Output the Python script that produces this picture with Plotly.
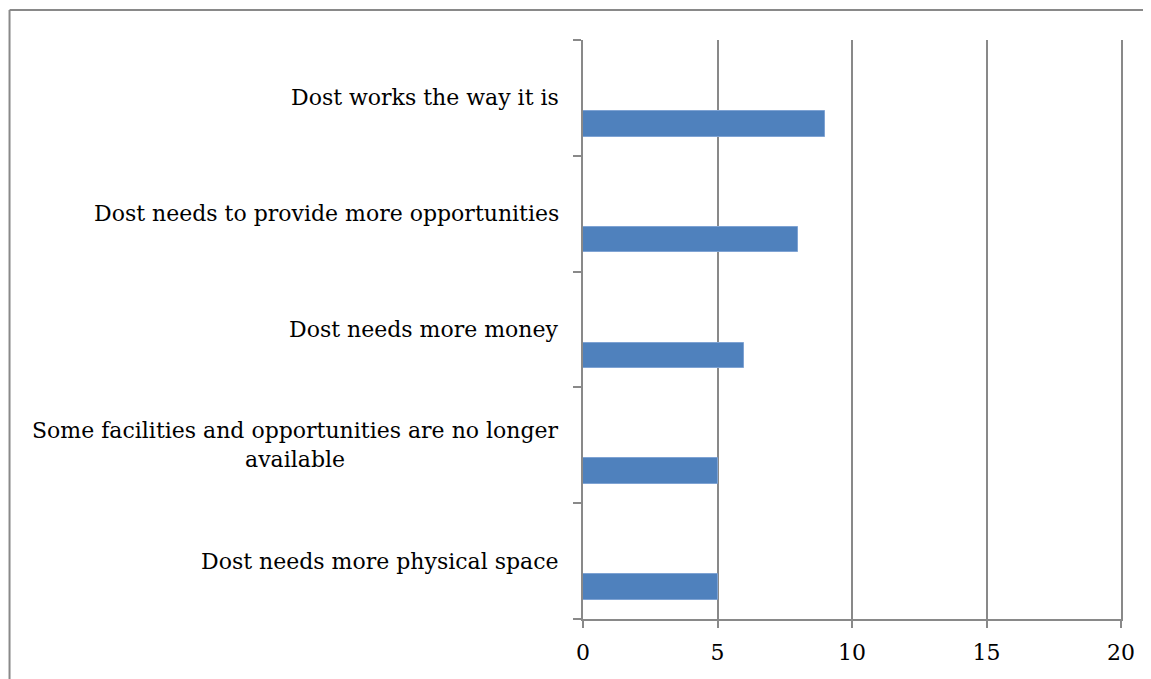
import plotly.graph_objects as go

# Data (bottom-to-top order for plotly category axis)
categories = [
    "Dost needs more physical space",
    "Some facilities and opportunities are no longer<br>available",
    "Dost needs more money",
    "Dost needs to provide more opportunities",
    "Dost works the way it is",
]
values = [5, 5, 6, 8, 9]
x_ticks = [0, 5, 10, 15, 20]

# page has an 8px body margin; compensate so the picture lands on the 1151x679 window
OFF = 8
W, H = 1151 - OFF, 679 - OFF
L, T = 583 - OFF, 40 - OFF
R, B = 29.5, 60
pw, ph = W - L - R, H - T - B

FONT = "DejaVu Serif"
FS = 22
GRAY = "#898989"

fig = go.Figure()
fig.add_trace(go.Bar(
    y=categories, x=values, orientation="h",
    offset=-0.334, width=0.221,
    marker=dict(color="#4F81BD", line=dict(color="#7FA3D3", width=1)),
    showlegend=False, hoverinfo="x+y",
))

def px2paper_x(px):
    return (px - OFF - L) / pw

def px2paper_y(py):
    return (H - B - (py - OFF)) / ph

annotations = []
for c in categories:
    annotations.append(dict(
        x=px2paper_x(561), xref="paper", xanchor="right",
        y=c, yref="y", yanchor="middle",
        text=c, showarrow=False, align="center",
        font=dict(family=FONT, size=FS, color="#000000"),
    ))

shapes = [
    dict(type="line", xref="paper", yref="paper",
         x0=px2paper_x(9), x1=px2paper_x(1170), y0=px2paper_y(10), y1=px2paper_y(10),
         line=dict(color=GRAY, width=2)),
    dict(type="line", xref="paper", yref="paper",
         x0=px2paper_x(9), x1=px2paper_x(9), y0=px2paper_y(10), y1=px2paper_y(700),
         line=dict(color=GRAY, width=2)),
]

fig.update_layout(
    width=W, height=H,
    margin=dict(l=L, r=R, t=T, b=B, autoexpand=False),
    paper_bgcolor="white", plot_bgcolor="white",
    font=dict(family=FONT, size=FS, color="#000000"),
    annotations=annotations, shapes=shapes,
    bargap=0,
)
fig.update_xaxes(
    range=[0, 20], tickvals=x_ticks, ticktext=[str(v) for v in x_ticks],
    showgrid=True, gridcolor=GRAY, gridwidth=2,
    showline=True, linecolor=GRAY, linewidth=2,
    ticks="outside", ticklen=7, tickwidth=2, tickcolor=GRAY,
    ticklabelstandoff=6,
    tickfont=dict(family=FONT, size=FS, color="#000000"),
    zeroline=False, fixedrange=True,
)
fig.update_yaxes(
    type="category", categoryorder="array", categoryarray=categories,
    range=[-0.5, 4.5], tickson="boundaries",
    showticklabels=False, showgrid=False,
    showline=True, mirror=True, linecolor=GRAY, linewidth=2,
    ticks="outside", ticklen=8, tickwidth=2, tickcolor=GRAY,
    zeroline=False, fixedrange=True,
)

fig.write_html("out.html", config={"displayModeBar": False})
